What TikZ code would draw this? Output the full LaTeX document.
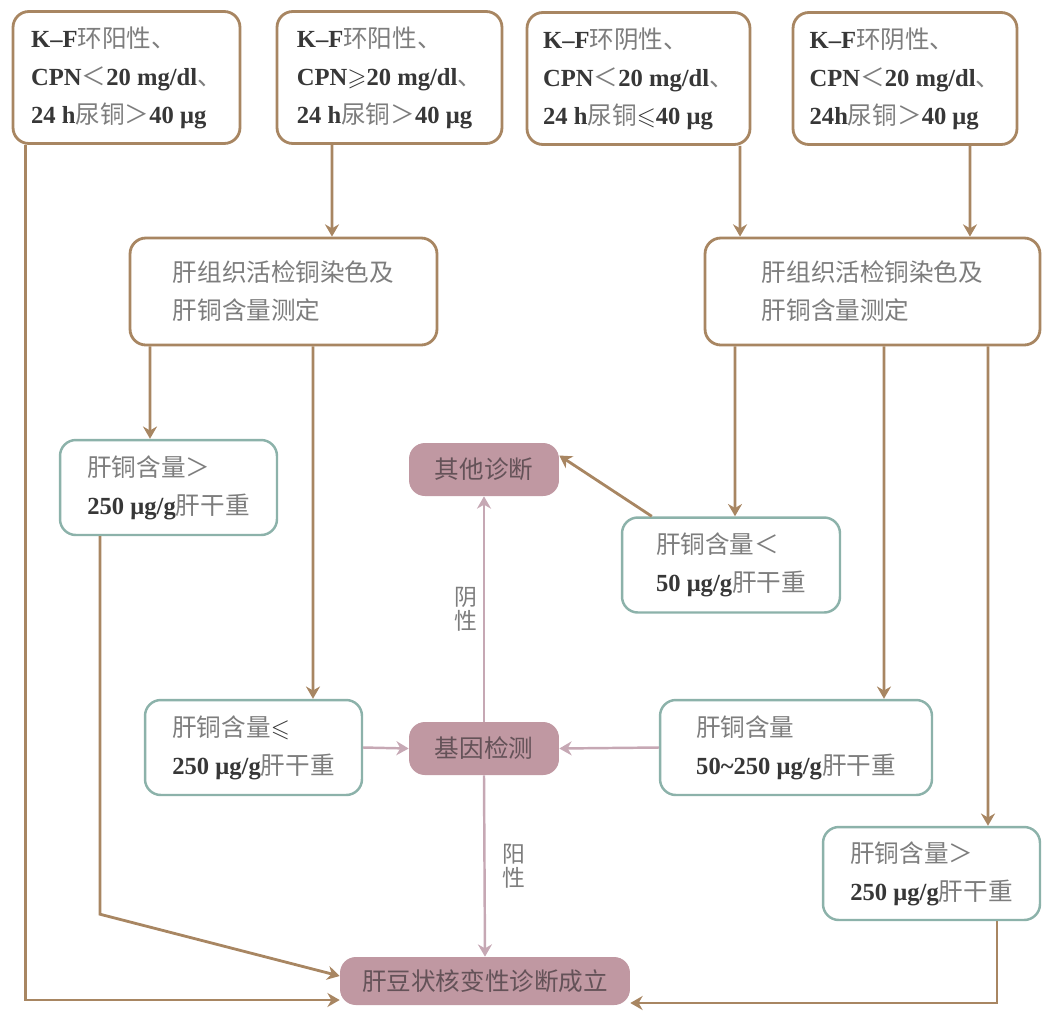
\documentclass[tikz,border=0pt]{standalone}
\usepackage{amssymb}
\usepackage{fontspec}
\setmainfont{Liberation Serif}
\newfontfamily\cjk{Noto Sans CJK SC}
\usepackage{tikz}
\usepackage{xcolor}
\usetikzlibrary{arrows.meta}
\definecolor{brn}{RGB}{168,134,98}
\definecolor{tl}{RGB}{140,178,170}
\definecolor{mv}{RGB}{192,152,162}
\definecolor{mvl}{RGB}{198,168,180}
\definecolor{zhg}{RGB}{125,125,125}
\definecolor{numc}{RGB}{55,55,55}
\definecolor{mvt}{RGB}{100,82,88}
\newcommand{\zh}[1]{{\cjk\mdseries\color{zhg}#1}}

\begin{document}
\begin{tikzpicture}[x=0.02cm,y=-0.02cm,
  every node/.style={font=\fontsize{14}{21.6}\selectfont\bfseries, text=numc, align=left},
  kf/.style={draw=brn, line width=1.6pt, rounded corners=9pt, fill=white, minimum height=2.64cm},
  cu/.style={draw=tl, line width=1.4pt, rounded corners=9pt, fill=white, minimum height=1.9cm},
  mvbox/.style={fill=mv, rounded corners=9pt, minimum height=1.06cm, text=mvt,
    font=\fontsize{14}{21.6}\selectfont\cjk},
  lbl/.style={font=\fontsize{13}{13.5}\selectfont\cjk\mdseries, text=zhg},
  br/.style={draw=brn, line width=1.6pt, -{Stealth[length=7pt,width=8pt]}},
  mvarr/.style={draw=mvl, line width=1.4pt, -{Stealth[length=7pt,width=8pt]}}]
\useasboundingbox (0,0) rectangle (1042,1012);
\node[kf, minimum width=4.54cm] (0) at (126.5,77.5) {K–F\zh{环阳性、}\\CPN\zh{＜}20 mg/dl\zh{、}\\24 h\zh{尿铜＞}40 μg};
\node[kf, minimum width=4.5cm] (1) at (389.5,77.5) {K–F\zh{环阳性、}\\CPN$\geqslant$20 mg/dl\zh{、}\\24 h\zh{尿铜＞}40 μg};
\node[kf, minimum width=4.46cm] (2) at (638.5,78.5) {K–F\zh{环阴性、}\\CPN\zh{＜}20 mg/dl\zh{、}\\24 h\zh{尿铜}$\leqslant$40 μg};
\node[kf, minimum width=4.48cm] (3) at (905,78.5) {K–F\zh{环阴性、}\\CPN\zh{＜}20 mg/dl\zh{、}\\24h\zh{尿铜＞}40 μg};
\node[kf, minimum width=6.14cm, minimum height=2.14cm] (4) at (283.5,291.5) {\zh{肝组织活检铜染色及}\\\zh{肝铜含量测定}};
\node[kf, minimum width=6.7cm, minimum height=2.14cm] (5) at (872.5,291.5) {\zh{肝组织活检铜染色及}\\\zh{肝铜含量测定}};
\node[cu, minimum width=4.34cm] (6) at (168.5,487.5) {\zh{肝铜含量＞}\\250 μg/g\zh{肝干重}};
\node[cu, minimum width=4.34cm] (7) at (253.5,747.5) {\zh{肝铜含量}$\leqslant$\\250 μg/g\zh{肝干重}};
\node[mvbox, minimum width=3cm] (8) at (484,469.5) {其他诊断};
\node[mvbox, minimum width=3cm] (9) at (484,748.5) {基因检测};
\node[cu, minimum width=4.36cm] (10) at (731,565) {\zh{肝铜含量＜}\\50 μg/g\zh{肝干重}};
\node[cu, minimum width=5.44cm] (11) at (796,747.5) {\zh{肝铜含量}\\50\textasciitilde 250 μg/g\zh{肝干重}};
\node[cu, minimum width=4.34cm, minimum height=1.86cm] (12) at (931.5,873.5) {\zh{肝铜含量＞}\\250 μg/g\zh{肝干重}};
\node[mvbox, minimum width=5.8cm, minimum height=0.96cm] (13) at (485,981) {肝豆状核变性诊断成立};
\draw[br] ([xshift=0.28cm]0.south west) |- ([yshift=-0.38cm]13.west);
\draw[br] ([xshift=-1.15cm]1.south) -- ([xshift=0.97cm]4.north);
\draw[br] ([xshift=2.03cm]2.south) -- ([xshift=-2.65cm]5.north);
\draw[br] ([xshift=1.3cm]3.south) -- ([xshift=1.95cm]5.north);
\draw[br] ([xshift=-2.67cm]4.south) -- ([xshift=-0.37cm]6.north);
\draw[br] ([xshift=0.59cm]4.south) -- ([xshift=1.19cm]7.north);
\draw[br] ([xshift=-2.75cm]5.south) -- ([xshift=0.08cm]10.north);
\draw[br] ([xshift=0.23cm]5.south) -- ([xshift=1.76cm]11.north);
\draw[br] ([xshift=2.31cm]5.south) -- ([xshift=1.13cm]12.north);
\draw[br] ([xshift=-1.37cm]6.south) -- ++(0,378) -- ([yshift=0.1cm]13.west);
\draw[br] ([xshift=0.62cm]10.north west) -- ([yshift=0.28cm]8.east);
\draw[br] ([xshift=1.31cm]12.south) |- ([yshift=-0.44cm]13.east);
\draw[mvarr] (7.east) -- (9.west);
\draw[mvarr] (11.west) -- (9.east);
\draw[mvarr] (9.north) -- (8.south) node[midway, left, lbl] {阴\\性};
\draw[mvarr] (9.south) -- (13.north) node[midway, right, lbl, xshift=6pt] {阳\\性};
\end{tikzpicture}
\end{document}
